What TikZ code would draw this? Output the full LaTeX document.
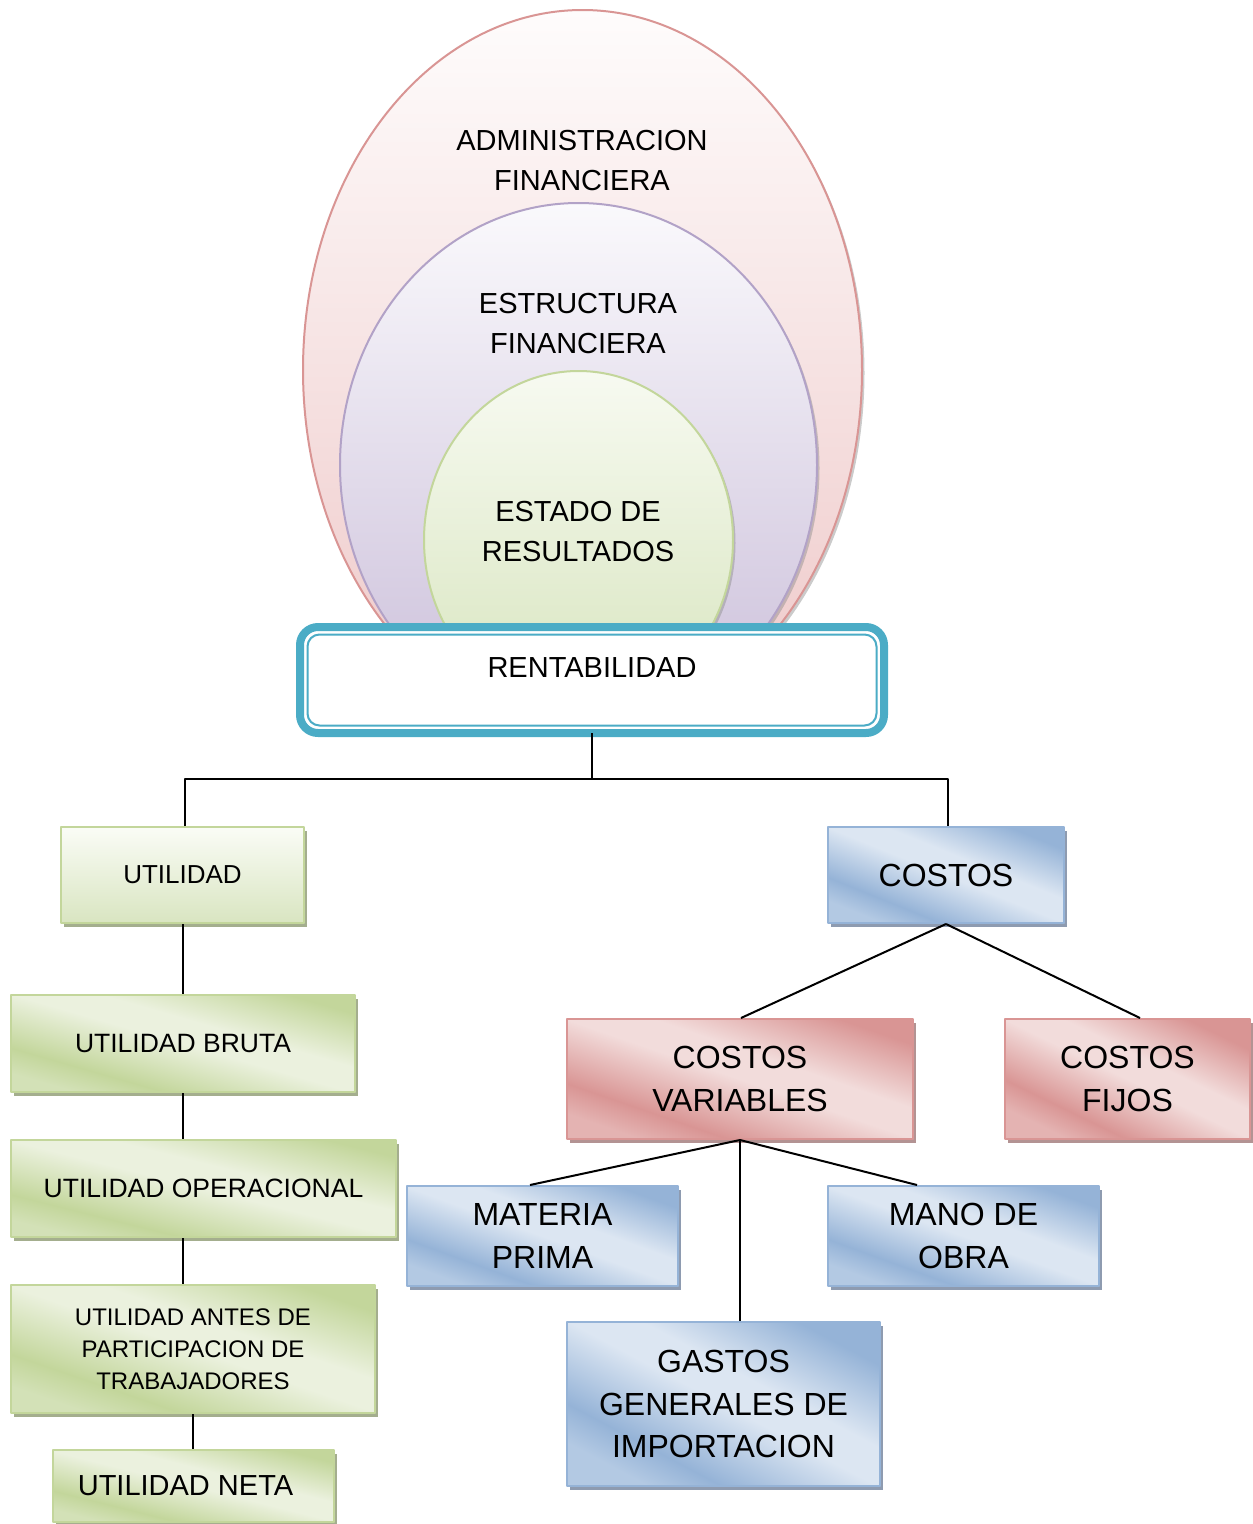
\documentclass[tikz,border=0pt]{standalone}
\usepackage{fontspec}
\setmainfont{Liberation Sans}
\usetikzlibrary{shadows,calc}
\definecolor{gD}{HTML}{C3D69B}
\definecolor{gL}{HTML}{EBF1DE}
\definecolor{gM}{HTML}{D3E1B7}
\definecolor{gS}{HTML}{A4AE8E}
\definecolor{gT}{HTML}{FAFCF6}
\definecolor{gB}{HTML}{D9E5C1}
\definecolor{bD}{HTML}{95B3D7}
\definecolor{bL}{HTML}{DCE6F2}
\definecolor{bM}{HTML}{B3C9E3}
\definecolor{bS}{HTML}{8E9BB0}
\definecolor{pD}{HTML}{D99594}
\definecolor{pL}{HTML}{F2DCDB}
\definecolor{pM}{HTML}{E4B3B2}
\definecolor{pS}{HTML}{B39393}
\definecolor{rentc}{HTML}{4BACC6}
\definecolor{aT}{HTML}{FEFCFC}
\definecolor{aB}{HTML}{EEC8C8}
\definecolor{aE}{HTML}{D99594}
\definecolor{mT}{HTML}{FAF9FC}
\definecolor{mB}{HTML}{CBBFDA}
\definecolor{mE}{HTML}{B2A2C7}
\definecolor{iT}{HTML}{F7FAF1}
\definecolor{iB}{HTML}{D8E5BF}
\definecolor{iE}{HTML}{C3D69B}
\pgfdeclareverticalshading{gdiag}{100bp}{color(0bp)=(gM); color(25bp)=(gM); color(33bp)=(gD); color(50bp)=(gL); color(58bp)=(gL); color(75bp)=(gD); color(100bp)=(gD)}
\pgfdeclareverticalshading{bdiag}{100bp}{color(0bp)=(bM); color(25bp)=(bM); color(33bp)=(bD); color(50bp)=(bL); color(58bp)=(bL); color(75bp)=(bD); color(100bp)=(bD)}
\pgfdeclareverticalshading{pdiag}{100bp}{color(0bp)=(pM); color(25bp)=(pM); color(33bp)=(pD); color(50bp)=(pL); color(58bp)=(pL); color(75bp)=(pD); color(100bp)=(pD)}
\tikzset{
  box/.style={line width=2, inner sep=2pt, align=center, shade},
  gbox/.style={box, draw=gD, shading=gdiag, shading angle=-20,
    drop shadow={shadow xshift=3pt, shadow yshift=-4pt, fill=gS, opacity=1}},
  gvbox/.style={box, draw=gD, top color=gT, bottom color=gB,
    drop shadow={shadow xshift=3pt, shadow yshift=-4pt, fill=gS, opacity=1}},
  bbox/.style={box, draw=bD, shading=bdiag, shading angle=-20,
    drop shadow={shadow xshift=3pt, shadow yshift=-4pt, fill=bS, opacity=1}},
  pbox/.style={box, draw=pD, shading=pdiag, shading angle=-20,
    drop shadow={shadow xshift=3pt, shadow yshift=-4pt, fill=pS, opacity=1}},
  conn/.style={line width=2, black},
  elsh/.style={fill=black!45, opacity=0.45},
  big/.style={font=\fontsize{32}{42.5}\selectfont},
  mid/.style={font=\fontsize{29}{40}\selectfont},
  sml/.style={font=\fontsize{26.5}{34}\selectfont},
  tiny/.style={font=\fontsize{24}{32}\selectfont},
  lbl/.style={align=center, inner sep=0pt}
}
\begin{document}
\begin{tikzpicture}[x=1pt, y=-1pt, line join=round]
\useasboundingbox (0,0) rectangle (1253,1524);
% nested ellipses
\fill[elsh] (585,373) ellipse [x radius=279.5, y radius=360];
\shade[top color=aT, bottom color=aB, draw=aE, line width=2] (582.5,370) ellipse [x radius=279.5, y radius=360];
\fill[elsh] (581,468) ellipse [x radius=238.5, y radius=262];
\shade[top color=mT, bottom color=mB, draw=mE, line width=2] (578.5,465) ellipse [x radius=238.5, y radius=262];
\fill[elsh] (581,543) ellipse [x radius=154.5, y radius=169];
\shade[top color=iT, bottom color=iB, draw=iE, line width=2] (578.5,540) ellipse [x radius=154.5, y radius=169];
\node[lbl, mid] (adm) at (582,160.5) {ADMINISTRACION\\FINANCIERA};
\node[lbl, mid] (est) at (578,324) {ESTRUCTURA\\FINANCIERA};
\node[lbl, mid] (res) at (578,532) {ESTADO DE\\RESULTADOS};
% rentabilidad
\node[draw=rentc, fill=white, line width=8, rounded corners=18, minimum width=584, minimum height=106,
      inner sep=0pt, outer sep=0pt, mid, text height=20pt, text depth=25.2pt] (rent) at (592,680) {RENTABILIDAD};
\draw[rentc, line width=2, rounded corners=12] ($(rent.north west)+(7.5,7.5)$) rectangle ($(rent.south east)+(-7.5,-7.5)$);
% boxes
\node[gvbox, font=\fontsize{26}{34}\selectfont, minimum width=243, minimum height=96] (util) at (182.5,875) {UTILIDAD};
\node[gbox, sml, shading angle=-16, minimum width=344, minimum height=97] (bruta) at (183,1043.5) {UTILIDAD BRUTA};
\node[gbox, sml, shading angle=-14, minimum width=385, minimum height=97] (oper) at (203.5,1188.5) {UTILIDAD OPERACIONAL};
\node[gbox, tiny, shading angle=-19, minimum width=364, minimum height=128] (antes) at (193,1349) {UTILIDAD ANTES DE\\PARTICIPACION DE\\TRABAJADORES};
\node[gbox, mid, shading angle=-14, minimum width=281, minimum height=72] (neta) at (193.5,1486) {\hspace*{-16pt}UTILIDAD NETA};
\node[bbox, big, shading angle=-22, minimum width=236, minimum height=96] (cost) at (946,875) {COSTOS};
\node[pbox, big, shading angle=-19, minimum width=346, minimum height=120] (var) at (740,1079) {COSTOS\\VARIABLES};
\node[pbox, big, shading angle=-26, minimum width=245, minimum height=120] (fijos) at (1127.5,1079) {COSTOS\\FIJOS};
\node[bbox, big, shading angle=-20, minimum width=271, minimum height=100] (mat) at (542.5,1236) {MATERIA\\PRIMA};
\node[bbox, big, shading angle=-20, minimum width=271, minimum height=100] (mano) at (963.5,1236) {MANO DE\\OBRA};
\node[bbox, big, shading angle=-28, minimum width=313, minimum height=164] (gastos) at (723.5,1404) {GASTOS\\GENERALES DE\\IMPORTACION};
% connectors
\coordinate (hub) at ($(rent.south)+(0,46)$);
\draw[conn] (rent.south) -- (hub);
\draw[conn] ([xshift=2.5pt]util.north) |- (hub) -| ([xshift=2pt]cost.north);
\draw[conn] (util.south) -- (util.south |- bruta.north);
\draw[conn] (util.south |- bruta.south) -- (util.south |- oper.north);
\draw[conn] (util.south |- oper.south) -- (util.south |- antes.north);
\draw[conn] (antes.south) -- (antes.south |- neta.north);
\draw[conn] (cost.south) -- ([xshift=1pt]var.north);
\draw[conn] (cost.south) -- ([xshift=12.5pt]fijos.north);
\draw[conn] (var.south) -- ([xshift=-12.5pt]mat.north);
\draw[conn] (var.south) -- ([xshift=-46.5pt]mano.north);
\draw[conn] (var.south) -- (var.south |- gastos.north);
\end{tikzpicture}
\end{document}
